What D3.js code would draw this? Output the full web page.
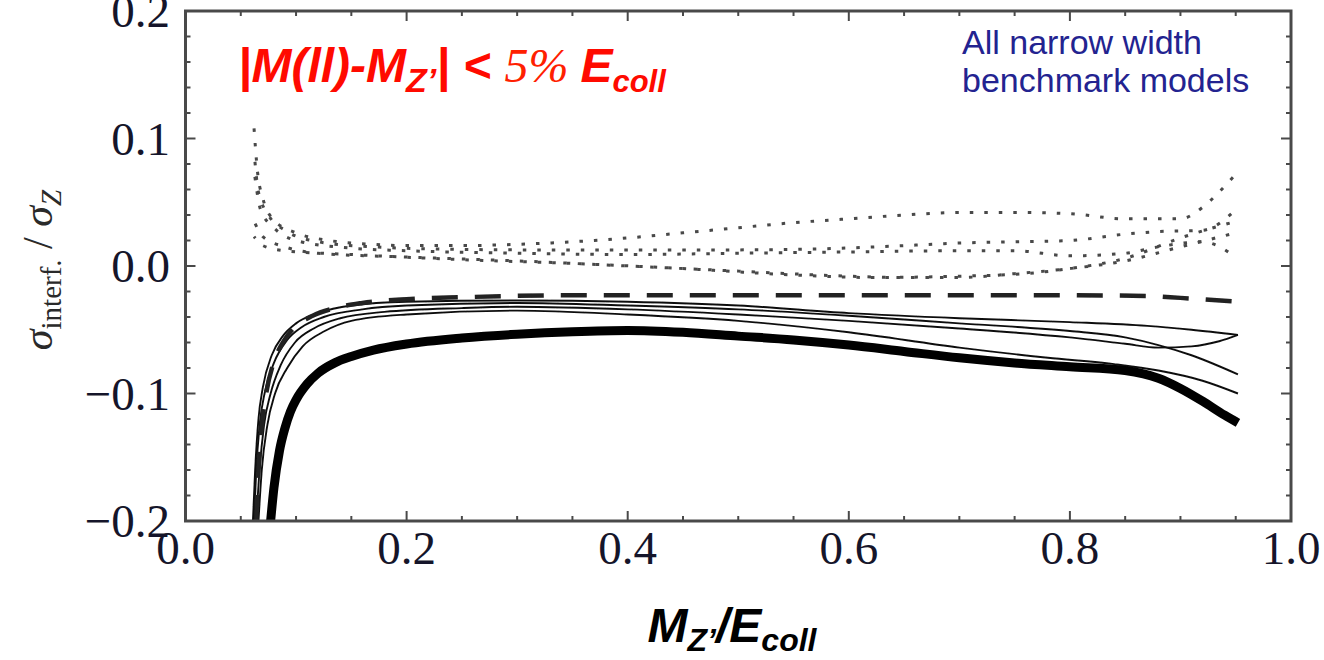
<!DOCTYPE html>
<html>
<head>
<meta charset="utf-8">
<script src="https://cdn.jsdelivr.net/npm/d3@7"></script>
<style>
  html, body { margin: 0; padding: 0; background: #fff; }
  svg { display: block; }
</style>
</head>
<body>
<svg id="chart" width="1324" height="660"></svg>
<script>
// ---- data -------------------------------------------------------------
const xTickValues = [0.0, 0.2, 0.4, 0.6, 0.8, 1.0];
const yTickValues = [-0.2, -0.1, 0.0, 0.1, 0.2];

// Thick solid model curve
const thickCurve = [
  [0.077,-0.2],[0.08,-0.174],[0.085,-0.145],[0.09,-0.127],[0.095,-0.114],[0.1,-0.105],
  [0.11,-0.0925],[0.12,-0.084],[0.135,-0.076],[0.15,-0.071],[0.17,-0.066],[0.2,-0.0612],
  [0.25,-0.0565],[0.3,-0.0535],[0.35,-0.0515],[0.4,-0.0505],[0.45,-0.052],[0.5,-0.055],
  [0.55,-0.058],[0.6,-0.062],[0.65,-0.067],[0.7,-0.072],[0.75,-0.076],[0.8,-0.079],
  [0.85,-0.082],[0.88,-0.088],[0.9,-0.096],[0.92,-0.106],[0.94,-0.117],[0.952,-0.123]
];

// Dashed model curve
const dashedCurve = [
  [0.064,-0.2],[0.066,-0.16],[0.069,-0.125],[0.073,-0.1],[0.08,-0.075],[0.088,-0.06],
  [0.1,-0.047],[0.115,-0.039],[0.135,-0.033],[0.16,-0.029],[0.2,-0.026],[0.25,-0.0245],
  [0.35,-0.023],[0.5,-0.023],[0.65,-0.023],[0.8,-0.023],[0.87,-0.0235],[0.9,-0.025],
  [0.952,-0.028]
];

// Thin solid model curves
const thinA = [
  [0.061,-0.2],[0.063,-0.16],[0.066,-0.12],[0.07,-0.095],[0.078,-0.07],[0.088,-0.055],
  [0.1,-0.045],[0.12,-0.037],[0.15,-0.031],[0.2,-0.028],[0.3,-0.027],[0.4,-0.028],
  [0.5,-0.031],[0.6,-0.037],[0.7,-0.041],[0.8,-0.044],[0.87,-0.047],[0.91,-0.05],[0.952,-0.054]
];
const thinB = [
  [0.062,-0.2],[0.064,-0.16],[0.067,-0.125],[0.072,-0.098],[0.08,-0.076],[0.092,-0.058],
  [0.105,-0.048],[0.125,-0.04],[0.16,-0.034],[0.2,-0.031],[0.3,-0.029],[0.4,-0.031],
  [0.5,-0.034],[0.6,-0.039],[0.7,-0.045],[0.8,-0.051],[0.85,-0.056],[0.88,-0.062],
  [0.91,-0.07],[0.952,-0.085]
];
const thinC = [
  [0.064,-0.2],[0.067,-0.16],[0.071,-0.125],[0.077,-0.1],[0.086,-0.078],[0.099,-0.06],
  [0.116,-0.049],[0.14,-0.041],[0.18,-0.036],[0.25,-0.033],[0.3,-0.032],[0.4,-0.034],
  [0.5,-0.038],[0.6,-0.043],[0.7,-0.049],[0.8,-0.056],[0.85,-0.061],[0.88,-0.064],
  [0.91,-0.063],[0.935,-0.059],[0.952,-0.054]
];
const thinD = [
  [0.066,-0.2],[0.069,-0.16],[0.074,-0.125],[0.081,-0.1],[0.092,-0.08],[0.106,-0.063],
  [0.126,-0.051],[0.15,-0.043],[0.2,-0.038],[0.3,-0.035],[0.4,-0.038],[0.5,-0.043],
  [0.6,-0.052],[0.7,-0.064],[0.78,-0.072],[0.84,-0.077],[0.88,-0.082],[0.92,-0.09],
  [0.952,-0.1]
];

// Dotted model curves (above / near zero)
const dotted1 = [
  [0.062,0.108],[0.065,0.075],[0.07,0.053],[0.08,0.036],[0.1,0.026],[0.13,0.02],
  [0.17,0.017],[0.2,0.016],[0.25,0.016],[0.3,0.017],[0.35,0.019],[0.4,0.022],
  [0.45,0.026],[0.5,0.03],[0.55,0.034],[0.6,0.037],[0.65,0.04],[0.7,0.042],[0.75,0.042],
  [0.8,0.041],[0.85,0.037],[0.9,0.037],[0.92,0.046],[0.935,0.058],[0.95,0.072]
];
const dotted2 = [
  [0.062,0.09],[0.066,0.058],[0.075,0.04],[0.09,0.028],[0.12,0.019],[0.17,0.015],
  [0.25,0.013],[0.35,0.0125],[0.45,0.0125],[0.55,0.013],[0.65,0.016],[0.7,0.018],
  [0.75,0.019],[0.8,0.02],[0.85,0.025],[0.88,0.027],[0.92,0.028],[0.95,0.044]
];
const dotted3 = [
  [0.062,0.075],[0.068,0.044],[0.08,0.03],[0.1,0.02],[0.15,0.014],[0.2,0.012],
  [0.3,0.01],[0.4,0.009],[0.5,0.01],[0.6,0.011],[0.7,0.012],[0.75,0.012],[0.8,0.008],
  [0.85,0.01],[0.88,0.015],[0.92,0.019],[0.95,0.007]
];
const dotted4 = [
  [0.062,0.035],[0.07,0.023],[0.09,0.015],[0.12,0.01],[0.2,0.007],[0.3,0.004],
  [0.4,0.0],[0.5,-0.004],[0.6,-0.008],[0.65,-0.009],[0.7,-0.009],[0.75,-0.006],
  [0.8,-0.002],[0.85,0.004],[0.9,0.015],[0.95,0.026]
];
const dotted5 = [
  [0.062,0.023],[0.07,0.016],[0.09,0.012],[0.15,0.009],[0.25,0.005],[0.35,0.002],
  [0.45,-0.002],[0.55,-0.007],[0.62,-0.009],[0.7,-0.008],[0.76,-0.006],[0.8,-0.002],
  [0.85,0.006],[0.9,0.022],[0.95,0.035]
];

// ---- layout -----------------------------------------------------------
const svg = d3.select("#chart");
const plot = { left: 185.5, right: 1291, top: 11, bottom: 521 };

const x = d3.scaleLinear().domain([0, 1]).range([plot.left, plot.right]);
const y = d3.scaleLinear().domain([-0.2, 0.2]).range([plot.bottom, plot.top]);

const defs = svg.append("defs");
defs.append("clipPath").attr("id", "plotClip")
  .append("rect")
  .attr("x", plot.left).attr("y", plot.top)
  .attr("width", plot.right - plot.left).attr("height", plot.bottom - plot.top);
defs.append("filter").attr("id", "soft")
  .append("feGaussianBlur").attr("stdDeviation", 0.7);

const line = d3.line()
  .x(d => x(d[0]))
  .y(d => y(d[1]))
  .curve(d3.curveMonotoneX);

// ---- frame ticks (inside, on all four sides) ---------------------------
const frameColor = "#4a4a4a";
const xMinor = d3.range(0, 1.0001, 0.05);
const yMinor = d3.range(-0.2, 0.2001, 0.02);
const isMajorX = v => Math.abs(v * 5 - Math.round(v * 5)) < 1e-6;
const isMajorY = v => Math.abs(v * 10 - Math.round(v * 10)) < 1e-6;

const ticks = svg.append("g").attr("stroke", frameColor).attr("filter", "url(#soft)");
xMinor.forEach(v => {
  const len = isMajorX(v) ? 10 : 5;
  ticks.append("line").attr("x1", x(v)).attr("x2", x(v))
    .attr("y1", plot.bottom).attr("y2", plot.bottom - len).attr("stroke-width", 2);
  ticks.append("line").attr("x1", x(v)).attr("x2", x(v))
    .attr("y1", plot.top).attr("y2", plot.top + len).attr("stroke-width", 2);
});
yMinor.forEach(v => {
  const len = isMajorY(v) ? 10 : 5;
  ticks.append("line").attr("x1", plot.left).attr("x2", plot.left + len)
    .attr("y1", y(v)).attr("y2", y(v)).attr("stroke-width", 2);
  ticks.append("line").attr("x1", plot.right).attr("x2", plot.right - len)
    .attr("y1", y(v)).attr("y2", y(v)).attr("stroke-width", 2);
});

// ---- data marks -------------------------------------------------------
const marks = svg.append("g").attr("clip-path", "url(#plotClip)");

// zero reference line
marks.append("line")
  .attr("x1", plot.left).attr("x2", plot.right)
  .attr("y1", y(0)).attr("y2", y(0))
  .attr("stroke", "#555").attr("stroke-width", 2.6).attr("filter", "url(#soft)");

const curves = marks.append("g").attr("fill", "none").attr("filter", "url(#soft)");

[dotted1, dotted2, dotted3, dotted4, dotted5].forEach((s, i) => {
  curves.append("path").datum(s).attr("d", line)
    .attr("stroke", "#484848").attr("stroke-width", 3)
    .attr("stroke-dasharray", "3.5,11").attr("stroke-dashoffset", i * 4);
});

[thinA, thinB, thinC, thinD].forEach(s => {
  curves.append("path").datum(s).attr("d", line)
    .attr("stroke", "#111").attr("stroke-width", 1.9);
});

curves.append("path").datum(dashedCurve).attr("d", line)
  .attr("stroke", "#222").attr("stroke-width", 4.5)
  .attr("stroke-dasharray", "26,17");

curves.append("path").datum(thickCurve).attr("d", line)
  .attr("stroke", "#000").attr("stroke-width", 9).attr("stroke-linecap", "butt");

// ---- frame ------------------------------------------------------------
svg.append("rect")
  .attr("x", plot.left).attr("y", plot.top)
  .attr("width", plot.right - plot.left).attr("height", plot.bottom - plot.top)
  .attr("fill", "none").attr("stroke", frameColor).attr("stroke-width", 3)
  .attr("filter", "url(#soft)");

// ---- tick labels ------------------------------------------------------
const fmt = d3.format(".1f");
const labelFont = "'Liberation Serif', 'DejaVu Serif', serif";
const labelColor = "#15152a";

svg.append("g").selectAll("text").data(xTickValues).join("text")
  .attr("x", d => x(d)).attr("y", 564)
  .attr("text-anchor", "middle")
  .attr("font-family", labelFont).attr("font-size", 47).attr("fill", labelColor)
  .text(d => fmt(d));

svg.append("g").selectAll("text").data(yTickValues).join("text")
  .attr("x", 170).attr("y", d => y(d) + 16)
  .attr("text-anchor", "end")
  .attr("font-family", labelFont).attr("font-size", 47).attr("fill", labelColor)
  .text(d => fmt(d).replace("-", "\u2212"));

// ---- axis titles ------------------------------------------------------
const yTitle = svg.append("text")
  .attr("transform", "translate(52,270) rotate(-90)")
  .attr("text-anchor", "middle")
  .attr("font-family", labelFont).attr("fill", "#2a2a2a").attr("font-size", 42);
yTitle.append("tspan").attr("font-style", "italic").text("\u03C3");
yTitle.append("tspan").attr("font-size", 29).attr("dy", 9).text("interf.");
yTitle.append("tspan").attr("dy", -9).text(" / ");
yTitle.append("tspan").attr("font-style", "italic").text("\u03C3");
yTitle.append("tspan").attr("font-style", "italic").attr("font-size", 29).attr("dy", 9).text("Z");

const sans = "'Liberation Sans', Arial, sans-serif";
const xTitle = svg.append("text")
  .attr("x", 732).attr("y", 642)
  .attr("text-anchor", "middle")
  .attr("font-family", sans).attr("font-weight", "bold").attr("font-style", "italic")
  .attr("fill", "#000").attr("font-size", 48);
xTitle.append("tspan").text("M");
xTitle.append("tspan").attr("font-size", 32).attr("dy", 9).text("Z\u2019");
xTitle.append("tspan").attr("dy", -9).text("/E");
xTitle.append("tspan").attr("font-size", 32).attr("dy", 9).text("coll");

// ---- annotations ------------------------------------------------------
const cut = svg.append("text")
  .attr("x", 238).attr("y", 82)
  .attr("font-family", sans).attr("font-weight", "bold").attr("font-style", "italic")
  .attr("fill", "#ff0a00").attr("font-size", 48);
cut.append("tspan").text("|M(ll)-M");
cut.append("tspan").attr("font-size", 34).attr("dy", 10).text("Z\u2019");
cut.append("tspan").attr("dy", -10).text("| < ");
cut.append("tspan").attr("font-family", labelFont).attr("font-weight", "normal")
  .attr("fill", "#ff2000").attr("font-size", 48).text("5% ");
cut.append("tspan").text("E");
cut.append("tspan").attr("font-size", 31).attr("dy", 10).text("coll");

const note = svg.append("g")
  .attr("font-family", sans).attr("fill", "#232390").attr("font-size", 34);
note.append("text").attr("x", 962).attr("y", 54).text("All narrow width");
note.append("text").attr("x", 962).attr("y", 92).text("benchmark models");
</script>
</body>
</html>
